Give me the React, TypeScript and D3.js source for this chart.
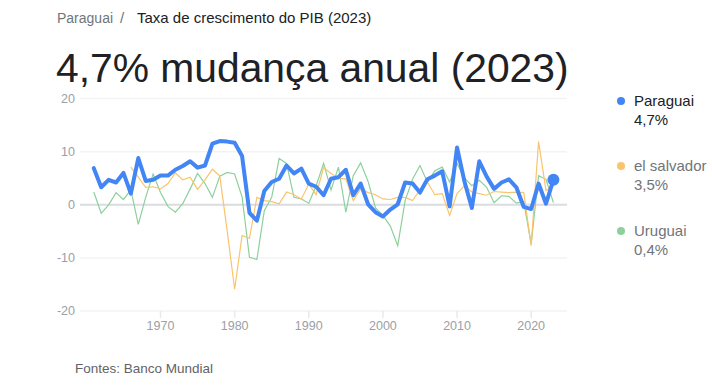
import React from 'react'
import * as d3 from 'd3'

const width = 712
const height = 392

const years = d3.range(1961, 2024)

const paraguai = [
  6.9, 3.3, 4.7, 4.2, 6.0, 2.1, 8.8, 4.5, 4.7, 5.5,
  5.5, 6.6, 7.3, 8.2, 7.0, 7.4, 11.5, 12.0, 11.9, 11.7,
  9.2, -1.5, -3.0, 2.6, 4.3, 4.9, 7.4, 5.9, 6.8, 4.0,
  3.4, 1.8, 4.9, 5.2, 6.6, 1.8, 4.0, 0.1, -1.4, -2.2,
  -0.9, 0.1, 4.2, 4.0, 2.3, 4.8, 5.5, 6.3, -0.3, 10.8,
  4.4, -0.6, 8.2, 5.3, 3.0, 4.2, 4.8, 3.3, -0.4, -0.8,
  4.0, 0.2, 4.7,
]

// no data before 1966
const elSalvador = [
  null, null, null, null, null, 7.1, 5.2, 3.3, 3.4, 3.0,
  4.0, 6.0, 4.7, 5.2, 2.9, 4.7, 6.7, 5.4, -5.0, -15.9,
  -5.8, -6.3, 1.4, 0.8, 0.6, 0.2, 2.4, 1.9, 1.1, 3.9,
  1.9, 7.0, 5.9, 5.0, 4.9, 0.8, 3.0, 2.3, 1.9, 1.1,
  1.0, 1.4, 1.4, 0.8, 2.8, 4.3, 1.9, 2.1, -2.0, 2.1,
  3.6, 2.4, 2.1, 1.8, 2.5, 2.4, 2.3, 2.4, 2.3, -7.7,
  11.9, 2.7, 3.5,
]

const uruguai = [
  2.4, -1.6, 0.0, 2.3, 1.0, 2.8, -3.7, 1.4, 5.8, 2.3,
  -0.3, -1.4, 0.2, 3.0, 5.9, 4.0, 1.4, 5.4, 6.1, 5.8,
  1.5, -9.9, -10.3, -1.1, 1.4, 8.7, 7.8, 1.4, 1.1, 0.3,
  3.6, 7.8, 2.8, 7.1, -1.4, 5.5, 7.9, 4.4, -0.6, -2.0,
  -4.0, -7.7, 0.8, 4.8, 7.4, 4.3, 6.4, 7.1, 4.3, 7.8,
  5.0, 3.6, 4.6, 3.3, 0.4, 1.7, 1.6, 0.3, 0.6, -7.4,
  5.5, 4.8, 0.4,
]

const yTicks = [20, 10, 0, -10, -20]
const xTicks = [1970, 1980, 1990, 2000, 2010, 2020]

const legend = [
  { name: 'Paraguai', value: '4,7%', color: '#4285f4', text: '#202124', y: 101 },
  { name: 'el salvador', value: '3,5%', color: '#f9c46e', text: '#70757a', y: 166 },
  { name: 'Uruguai', value: '0,4%', color: '#8dd09c', text: '#70757a', y: 231 },
]

const font = '"Liberation Sans", Arial, sans-serif'

const x = d3.scaleLinear().domain([1961, 2023]).range([93.8, 553.4])
const y = d3.scaleLinear().domain([-20, 20]).range([311, 98.6])

const line = d3.line<number | null>()
  .defined(d => d != null)
  .x((d, i) => x(years[i]))
  .y(d => y(d as number))

const App = () => {
  const last = paraguai.length - 1
  return (
    <div style={{ position: 'absolute', left: 0, top: 0 }}>
      <svg width={width} height={height} style={{ display: 'block', fontFamily: font }}>
        <text x={57} y={23} fontSize={14} fill='#70757a'>Paraguai</text>
        <text x={120} y={23} fontSize={15} fill='#70757a'>/</text>
        <text x={137} y={23} fontSize={15} fill='#202124'>Taxa de crescimento do PIB (2023)</text>
        <text x={56} y={82} fontSize={40.8} fill='#202124'>4,7% mudança anual (2023)</text>

        {yTicks.map(t => (
          <g key={t}>
            <line x1={80} x2={567} y1={y(t)} y2={y(t)}
              stroke={t === 0 ? '#dadce0' : '#f1f3f4'} strokeWidth={t === 0 ? 2 : 1.5} />
            <text x={75} y={y(t)} dy='0.35em' textAnchor='end' fontSize={12.5} fill='#9aa0a6'>{t}</text>
          </g>
        ))}

        {xTicks.map(t => (
          <g key={t}>
            <line x1={x(t)} x2={x(t)} y1={y(-20)} y2={y(-20) + 7} stroke='#e8eaed' strokeWidth={1.5} />
            <text x={x(t)} y={330} textAnchor='middle' fontSize={12.5} fill='#9aa0a6'>{t}</text>
          </g>
        ))}

        <path d={line(uruguai) || ''} fill='none' stroke='#8dd09c' strokeWidth={1.2} />
        <path d={line(elSalvador) || ''} fill='none' stroke='#f9c46e' strokeWidth={1.2} />
        <path d={line(paraguai) || ''} fill='none' stroke='#4285f4' strokeWidth={4}
          strokeLinejoin='round' strokeLinecap='round' />
        <circle cx={x(years[last])} cy={y(paraguai[last])} r={6} fill='#4285f4' />

        {legend.map(l => (
          <g key={l.name}>
            <circle cx={621} cy={l.y} r={4} fill={l.color} />
            <text x={634} y={l.y} dy='0.35em' fontSize={15} fill={l.text}>{l.name}</text>
            <text x={634} y={l.y + 19} dy='0.35em' fontSize={15} fill={l.text}>{l.value}</text>
          </g>
        ))}

        <text x={75} y={373} fontSize={13.5} fill='#5f6368'>Fontes: Banco Mundial</text>
      </svg>
    </div>
  )
}

export default App
